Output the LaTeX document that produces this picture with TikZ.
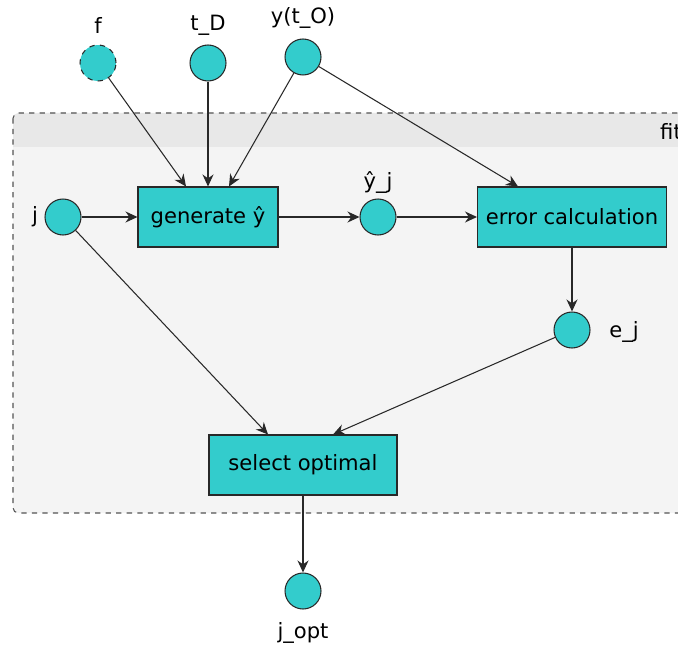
\documentclass[tikz,border=0pt]{standalone}
\usepackage{fontspec}
\setmainfont{DejaVu Sans}
\usetikzlibrary{arrows.meta, positioning, calc}
\definecolor{nodecolor}{RGB}{51, 204, 204}
\definecolor{groupcolor}{RGB}{244, 244, 244}
\definecolor{headercolor}{RGB}{232, 232, 232}
\definecolor{edgecolor}{RGB}{40, 40, 40}

\begin{document}
\begin{tikzpicture}[x=0.02cm, y=-0.02cm,
    font=\fontsize{12}{14}\selectfont,
    var/.style={circle, draw=edgecolor, fill=nodecolor, minimum size=0.72cm, inner sep=0pt, line width=0.6pt},
    proc/.style={draw=edgecolor, fill=nodecolor, minimum height=1.2cm, inner sep=0pt, line width=0.6pt},
    flow/.style={-{Stealth[length=2.4mm, width=2.2mm]}, edgecolor, line width=0.6pt}]
    \clip (0,0) rectangle (678,645);

    % Group "fit"
    \fill[groupcolor, rounded corners=3] (13,113) rectangle (700,513);
    \fill[headercolor] (13,147) [rounded corners=3] |- (700,113) [sharp corners] -- (700,147) -- cycle;
    \draw[dashed, edgecolor!80, line width=0.6pt, rounded corners=3] (13,113) rectangle (700,513);
    \node[anchor=west] (fitlbl) at (654,131) {fit};

    % Inputs
    \node[var, dashed] (f) at (98,63) {};
    \node[var] (tD) at (208,63) {};
    \node[var] (ytO) at (303,57) {};
    \node (flbl) at (98,25) {f};
    \node (tDlbl) at (208,25) {t\_D};
    \node (ytOlbl) at (303,18) {y(t\_O)};

    % Inner nodes
    \node[var] (j) at (63,217) {};
    \node (jlbl) at (35,217) {j};
    \node[proc, minimum width=2.8cm] (gen) at (208,217) {generate ŷ};
    \node[var] (yj) at (378,217) {};
    \node (yjlbl) at (378,183) {ŷ\_j};
    \node[proc, minimum width=3.78cm] (err) at (572,217) {error calculation};
    \node[var] (ej) at (572,330) {};
    \node (ejlbl) at (624,332) {e\_j};
    \node[proc, minimum width=3.76cm] (sel) at (303,465) {select optimal};

    % Output
    \node[var] (jopt) at (303,591) {};
    \node (joptlbl) at (303,633) {j\_opt};

    % Connections
    \draw[flow] (f) -- ($(gen.north)+(-22,0)$);
    \draw[flow] (tD) -- (gen.north);
    \draw[flow] (ytO) -- ($(gen.north)+(21,0)$);
    \draw[flow] (ytO) -- ($(err.north)+(-54,0)$);
    \draw[flow] (j) -- (gen);
    \draw[flow] (gen) -- (yj);
    \draw[flow] (yj) -- (err);
    \draw[flow] (err) -- (ej);
    \draw[flow] (j) -- ($(sel.north)+(-35,0)$);
    \draw[flow] (ej) -- ($(sel.north)+(30,0)$);
    \draw[flow] (sel) -- (jopt);
\end{tikzpicture}
\end{document}
